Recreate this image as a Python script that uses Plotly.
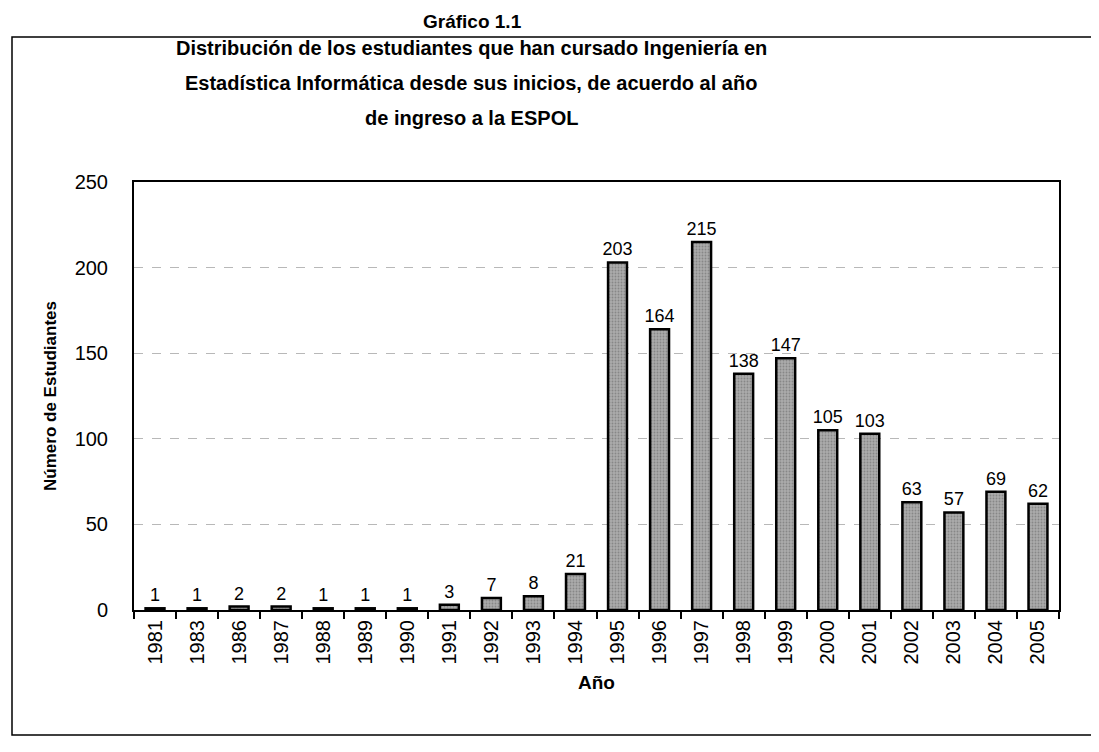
import plotly.graph_objects as go

years = ["1981", "1983", "1986", "1987", "1988", "1989", "1990", "1991", "1992", "1993", "1994",
         "1995", "1996", "1997", "1998", "1999", "2000", "2001", "2002", "2003", "2004", "2005"]
students = [1, 1, 2, 2, 1, 1, 1, 3, 7, 8, 21, 203, 164, 215, 138, 147, 105, 103, 63, 57, 69, 62]

title_lines = ["Distribución de los estudiantes que han cursado Ingeniería en",
               "Estadística Informática desde sus inicios, de acuerdo al año",
               "de ingreso a la ESPOL"]

FONT = "Liberation Sans, Arial"


# page pixel -> paper coords (plot area spans x 134..1059, y 182..610 on the page)
def px(x):
    return (x - 134) / 925


def py(y):
    return (610 - y) / 428


fig = go.Figure()
fig.add_trace(go.Bar(
    x=years, y=students, width=0.45,
    marker=dict(color="#a0a0a0", line=dict(color="black", width=2.5),
                pattern=dict(shape=".", fgcolor="#646464", bgcolor="#ababab", size=3, solidity=0.3)),
    text=students, textposition="outside", cliponaxis=False, constraintext="none",
    textfont=dict(family=FONT, size=18, color="black"),
))

# the page body has an 8px margin, so margins are shifted to compensate
fig.update_layout(
    width=1099, height=752,
    margin=dict(l=126, r=48, t=174, b=150),
    paper_bgcolor="white", plot_bgcolor="white",
    showlegend=False,
    font=dict(family=FONT, color="black"),
)

fig.update_xaxes(
    type="category", tickangle=-90, ticks="outside", tickson="boundaries", ticklen=7,
    tickcolor="black", tickwidth=1.5, tickfont=dict(size=20),
    showline=True, linecolor="black", linewidth=2, mirror=True,
    title=dict(text="<b>Año</b>", font=dict(size=19), standoff=12),
)
fig.update_yaxes(
    range=[0, 250], dtick=50, ticks="", ticklabelstandoff=20, tickfont=dict(size=20),
    showline=True, linecolor="black", linewidth=2, mirror=True,
    showgrid=True, gridcolor="#b8b8b8", griddash="dash", gridwidth=1,
    zeroline=False,
    title=dict(text="<b>Número de Estudiantes</b>", font=dict(size=17), standoff=14),
)

# title lines
for i, line in enumerate(title_lines):
    fig.add_annotation(text="<b>" + line + "</b>", xref="paper", yref="paper",
                       x=px(471), y=py(48 + i * 35),
                       xanchor="center", yanchor="middle", showarrow=False,
                       font=dict(family=FONT, size=20, color="black"))

fig.add_annotation(text="<b>Gráfico 1.1</b>", xref="paper", yref="paper",
                   x=px(472), y=py(22),
                   xanchor="center", yanchor="middle", showarrow=False,
                   font=dict(family=FONT, size=19, color="black"))

# outer chart border
fig.add_shape(type="rect", xref="paper", yref="paper",
              x0=px(12), x1=px(1093), y0=py(735), y1=py(37),
              line=dict(color="black", width=1.5), layer="below")

fig.write_html("out.html")
